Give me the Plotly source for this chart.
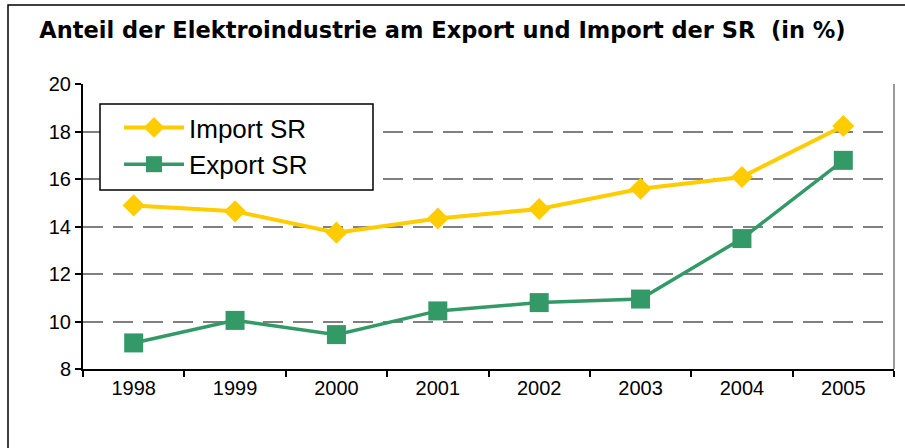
import plotly.graph_objects as go

years = ["1998", "1999", "2000", "2001", "2002", "2003", "2004", "2005"]
import_sr = [14.9, 14.65, 13.75, 14.35, 14.75, 15.6, 16.1, 18.25]
export_sr = [9.1, 10.05, 9.45, 10.45, 10.8, 10.95, 13.5, 16.8]
y_ticks = [8, 10, 12, 14, 16, 18, 20]

W, H = 905, 448
ml, mr, mt, mb = 83, 11, 84, 79
pw = W - ml - mr
ph = H - mt - mb


def px_x(p):
    return (p - ml) / pw


def px_y(p):
    return 1 - (p - mt) / ph


fig = go.Figure()
fig.add_trace(go.Scatter(
    x=years, y=import_sr, name="Import SR", mode="lines+markers",
    line=dict(color="#FFCC00", width=4),
    marker=dict(symbol="diamond", size=17, color="#FFCC00"),
))
fig.add_trace(go.Scatter(
    x=years, y=export_sr, name="Export SR", mode="lines+markers",
    line=dict(color="#339966", width=3.5),
    marker=dict(symbol="square", size=19, color="#339966"),
))

# outer chart border (left/top visible, right/bottom off-canvas)
fig.add_shape(type="rect", xref="paper", yref="paper",
              x0=px_x(8), x1=px_x(W + 10), y0=px_y(H + 10), y1=px_y(5),
              line=dict(color="black", width=1.5), layer="below")
# right plot-area border
fig.add_shape(type="line", xref="paper", yref="paper",
              x0=1, x1=1, y0=0, y1=1,
              line=dict(color="#999999", width=2))
# legend box
fig.add_shape(type="rect", xref="paper", yref="paper",
              x0=px_x(100), x1=px_x(373), y0=px_y(190), y1=px_y(104),
              fillcolor="white", line=dict(color="black", width=1.5), layer="above")

fig.update_layout(
    width=W, height=H,
    margin=dict(l=ml, r=mr, t=mt, b=mb),
    paper_bgcolor="white", plot_bgcolor="white",
    font=dict(family="Liberation Sans, Arial", size=20, color="black"),
    title=dict(text="<b>Anteil der Elektroindustrie am Export und Import der SR  (in %)</b>",
               x=(37 + 848) / 2 / W, xanchor="center", y=1 - 30 / H, yanchor="middle",
               font=dict(size=22.5, family="DejaVu Sans", color="black")),
    showlegend=True,
    legend=dict(x=px_x(119), y=px_y(104), xanchor="left", yanchor="top",
                borderwidth=0, bgcolor="rgba(0,0,0,0)",
                font=dict(size=26), itemwidth=60, tracegroupgap=0),
    xaxis=dict(type="category", tickson="boundaries", ticks="outside", ticklen=6,
               tickcolor="black", tickwidth=2, showline=True, linecolor="black", linewidth=2,
               showgrid=False, range=[-0.5, 7.5], tickfont=dict(size=20)),
    yaxis=dict(range=[8, 20.02], tickvals=y_ticks, ticks="outside", ticklen=6,
               tickcolor="black", tickwidth=2, showline=True, linecolor="black", linewidth=2,
               showgrid=True, gridcolor="#808080", griddash="20px,10px", gridwidth=2,
               zeroline=False, tickfont=dict(size=20)),
)

fig.write_html("out.html", config={"displayModeBar": False},
               post_script="document.body.style.margin='0';")
